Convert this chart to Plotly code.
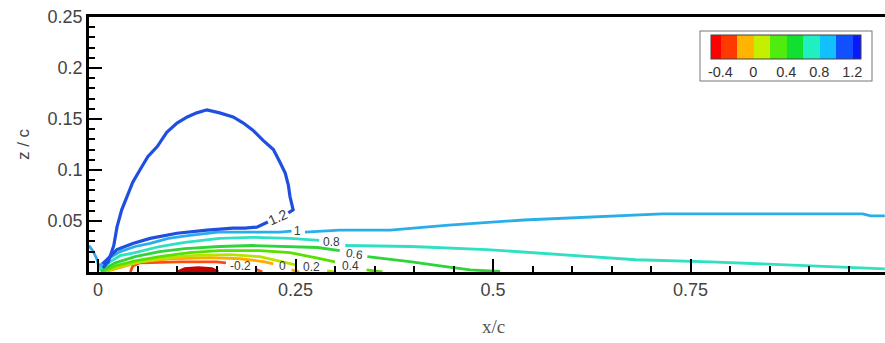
import plotly.graph_objects as go

# Contour levels of the plotted quantity and the colours used for them
levels = [-0.4, -0.2, 0.0, 0.2, 0.4, 0.6, 0.8, 1.0, 1.2]
level_colors = ["#c40000", "#ff4a10", "#ffac00", "#b6e400", "#58e000",
                "#2fd43a", "#2fe0c2", "#2aaeea", "#1f4fe0"]
# Colours of the legend cells (below -0.4, each 0.2 band, above 1.2)
band_colors = ["#ff0000", "#ff3a00", "#ffb400", "#c4f000", "#50ec10",
               "#12e030", "#20f0c0", "#10c0ff", "#1050ff", "#0818ff"]

# Isolines (x/c, z/c); None separates a line where its label sits
x_12 = [0.006, 0.013, 0.020, 0.024, 0.030, 0.037, 0.044, 0.053, 0.063, 0.075, 0.087,
        0.100, 0.113, 0.125, 0.138, 0.154, 0.171, 0.184, 0.196, 0.209, 0.222, 0.230,
        0.237, 0.241, 0.243, 0.247, 0.241, None, 0.215, 0.201, 0.186, 0.171, 0.138,
        0.100, 0.066, 0.044, 0.024, 0.015, 0.006]
z_12 = [0.004, 0.010, 0.026, 0.044, 0.061, 0.074, 0.088, 0.100, 0.113, 0.123, 0.137,
        0.146, 0.152, 0.156, 0.159, 0.156, 0.152, 0.146, 0.139, 0.129, 0.120, 0.108,
        0.097, 0.085, 0.074, 0.061, 0.058, None, 0.049, 0.044, 0.043, 0.043, 0.041,
        0.038, 0.033, 0.028, 0.022, 0.015, 0.008]

x_10 = [-0.0114, -0.006, -0.001, 0.001, None,
        0.000, 0.015, 0.028, 0.047, 0.066, 0.089, 0.116, 0.152, 0.192, 0.230, 0.245, None,
        0.262, 0.306, 0.370, 0.444, 0.539, 0.633, 0.714, 0.870, 0.968, 0.978, 0.996]
z_10 = [0.026, 0.020, 0.012, 0.005, None,
        0.005, 0.014, 0.020, 0.025, 0.028, 0.033, 0.036, 0.039, 0.039, 0.039, 0.040, None,
        0.039, 0.041, 0.041, 0.046, 0.051, 0.054, 0.057, 0.057, 0.057, 0.055, 0.055]

x_08 = [0.001, 0.015, 0.028, 0.047, 0.078, 0.110, 0.154, 0.195, 0.243, 0.280, None,
        0.313, 0.397, 0.492, 0.586, 0.681, 0.775, 0.870, 0.965, 0.996]
z_08 = [0.002, 0.010, 0.016, 0.019, 0.025, 0.029, 0.033, 0.034, 0.033, 0.031, None,
        0.026, 0.025, 0.022, 0.017, 0.012, 0.010, 0.007, 0.004, 0.003]

x_06 = [0.003, 0.022, 0.047, 0.078, 0.110, 0.154, 0.195, 0.243, 0.278, 0.306, None,
        0.341, 0.397, 0.433, 0.471, 0.509]
z_06 = [0.001, 0.009, 0.015, 0.020, 0.023, 0.025, 0.026, 0.025, 0.024, 0.021, None,
        0.015, 0.010, 0.006, 0.002, 0.0005]

x_04 = [0.004, 0.022, 0.047, 0.078, 0.116, 0.154, 0.205, 0.243, 0.275, 0.300, None,
        0.340, 0.360]
z_04 = [0.000, 0.006, 0.011, 0.015, 0.019, 0.021, 0.021, 0.019, 0.014, 0.010, None,
        0.002, 0.000]

x_02 = [0.006, 0.025, 0.047, 0.078, 0.116, 0.167, 0.205, 0.234, 0.250, None, 0.290, 0.300]
z_02 = [0.000, 0.005, 0.009, 0.013, 0.016, 0.017, 0.015, 0.010, 0.007, None, 0.001, 0.000]

x_00 = [0.008, 0.034, 0.053, 0.091, 0.142, 0.180, 0.211, 0.222, None, 0.245, 0.255]
z_00 = [0.000, 0.006, 0.010, 0.013, 0.014, 0.013, 0.010, 0.008, None, 0.002, 0.000]

x_m02 = [0.041, 0.044, 0.053, 0.104, 0.150, 0.162, None, 0.199, 0.208]
z_m02 = [0.000, 0.006, 0.009, 0.010, 0.010, 0.009, None, 0.003, 0.000]

x_m04 = [0.101, 0.110, 0.127, 0.144, 0.152]
z_m04 = [0.000, 0.003, 0.004, 0.003, 0.000]

# Inline contour labels, with their slant along the line
label_text = ["1.2", "1", "0.8", "0.6", "0.4", "0.2", "0", "-0.2"]
label_x = [0.228, 0.253, 0.296, 0.325, 0.320, 0.270, 0.233, 0.180]
label_z = [0.054, 0.040, 0.029, 0.018, 0.006, 0.005, 0.006, 0.006]
label_level = [1.2, 1.0, 0.8, 0.6, 0.4, 0.2, 0.0, -0.2]
label_size = [14, 12, 12, 12, 12, 12, 12, 12]
label_angle = [-24, 0, 0, 8, 0, 0, 0, 0]

x_ticks = [0, 0.25, 0.5, 0.75, 1.0]
x_ticktext = ["0", "0.25", "0.5", "0.75", "1"]
z_ticks = [0.05, 0.1, 0.15, 0.2, 0.25]
z_ticktext = ["0.05", "0.1", "0.15", "0.2", "0.25"]

lines = [
    (x_m04, z_m04, -0.4, 3.5),
    (x_m02, z_m02, -0.2, 2.8),
    (x_00, z_00, 0.0, 2.8),
    (x_02, z_02, 0.2, 2.8),
    (x_04, z_04, 0.4, 2.8),
    (x_06, z_06, 0.6, 2.8),
    (x_08, z_08, 0.8, 2.8),
    (x_10, z_10, 1.0, 2.8),
    (x_12, z_12, 1.2, 3.2),
]

fig = go.Figure()
for xs, zs, lev, w in lines:
    col = level_colors[levels.index(lev)]
    fig.add_trace(go.Scatter(
        x=xs, y=zs, mode="lines", line=dict(color=col, width=w),
        fill="toself" if lev == -0.4 else None,
        fillcolor=col if lev == -0.4 else None,
        hoverinfo="skip", showlegend=False))

for t, lx, lz, s, ang in zip(label_text, label_x, label_z, label_size, label_angle):
    fig.add_annotation(
        text=t, x=lx, y=lz, xref="x", yref="y", showarrow=False,
        textangle=ang, xanchor="center", yanchor="middle",
        font=dict(family="Arial, Liberation Sans, sans-serif", size=s, color="#3a3a3a"))

# Band legend: the colour scale steps through the 0.2-wide bands
cmin, cmax = -0.52, 1.30
bounds = [cmin] + levels + [cmax]
scale = []
for i, c in enumerate(band_colors):
    a = (bounds[i] - cmin) / (cmax - cmin)
    b = (bounds[i + 1] - cmin) / (cmax - cmin)
    scale.append([a, c])
    scale.append([b, c])

fig.add_trace(go.Scatter(
    x=label_x, y=label_z, mode="markers",
    marker=dict(color=label_level, colorscale=scale, cmin=cmin, cmax=cmax,
                opacity=0, size=1, showscale=True,
                colorbar=dict(
                    orientation="h", lenmode="pixels", len=170,
                    thicknessmode="pixels", thickness=24,
                    x=(785.5 - 89) / 796, xanchor="center",
                    y=(272 - 31) / 255, yanchor="top",
                    xpad=10, ypad=4,
                    outlinewidth=1, outlinecolor="#444444",
                    bordercolor="#777777", borderwidth=1, bgcolor="white",
                    tickvals=[-0.4, 0, 0.4, 0.8, 1.2],
                    ticktext=["-0.4", "0", "0.4", "0.8", "1.2"],
                    ticks="", ticklabelposition="outside bottom",
                    tickfont=dict(family="Arial, Liberation Sans, sans-serif",
                                  size=14.5, color="#333333"))),
    hoverinfo="skip", showlegend=False))

tick_font = dict(family="Arial, Liberation Sans, sans-serif", size=18, color="#444444")

fig.update_xaxes(
    range=[-0.0114, 0.9962], tickvals=x_ticks, ticktext=x_ticktext,
    ticks="inside", ticklen=13, tickwidth=2, tickcolor="black",
    minor=dict(dtick=0.05, tick0=0, ticks="inside", ticklen=6, tickwidth=1.5,
               tickcolor="black", showgrid=False),
    showline=True, linecolor="black", linewidth=2.5, mirror=True,
    showgrid=False, zeroline=False, tickfont=tick_font)

fig.update_yaxes(
    range=[0, 0.25], tickvals=z_ticks, ticktext=z_ticktext,
    ticks="inside", ticklen=13, tickwidth=2, tickcolor="black",
    minor=dict(dtick=0.01, tick0=0, ticks="inside", ticklen=6, tickwidth=1.5,
               tickcolor="black", showgrid=False),
    showline=True, linecolor="black", linewidth=2.5, mirror=False,
    showgrid=False, zeroline=False, tickfont=tick_font,
    title=dict(text="z / c", font=dict(family="Arial, Liberation Sans, sans-serif",
                                       size=17, color="#444444"), standoff=14))

fig.add_annotation(
    text="x/c", x=0.5, xref="x", y=-(326 - 272) / 255, yref="paper",
    xanchor="center", yanchor="middle", showarrow=False,
    font=dict(family="Liberation Serif, Times New Roman, serif", size=19,
              color="#555555"))

fig.update_layout(
    width=885, height=343,
    margin=dict(l=89, r=0, t=17, b=71),
    paper_bgcolor="white", plot_bgcolor="white",
    showlegend=False)

fig.write_html("out.html")
